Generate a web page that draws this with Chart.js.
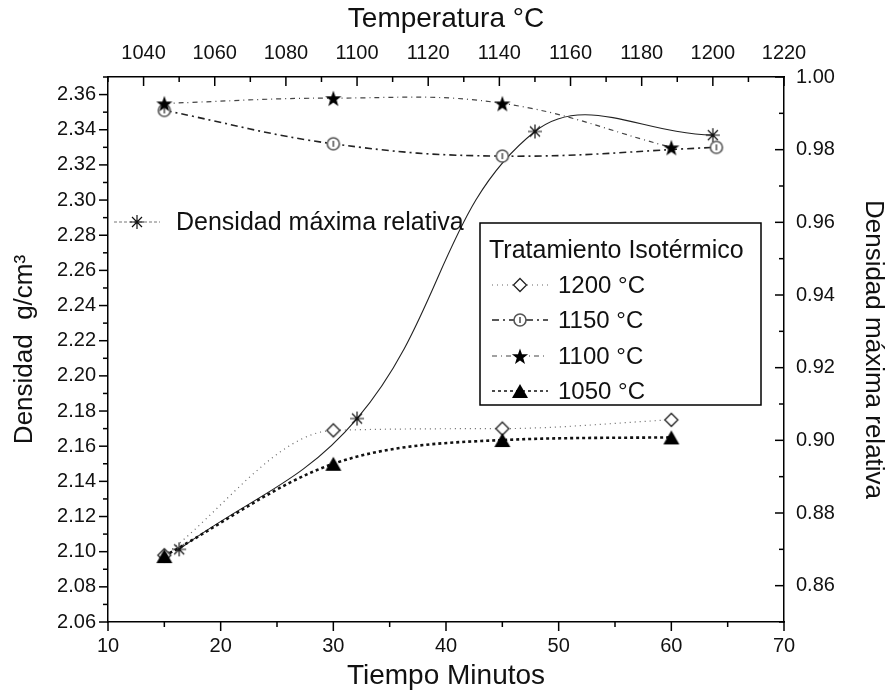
<!DOCTYPE html>
<html>
<head>
<meta charset="UTF-8" />
<title>Densidad vs tiempo</title>
<style>
  html, body { margin: 0; padding: 0; background: #fff; }
  #chartId { display: block; }
</style>
</head>
<body>
<canvas id="chartId" width="893" height="693"></canvas>
<script src="https://cdn.jsdelivr.net/npm/chart.js@4.4.1/dist/chart.umd.min.js"></script>
<script>
// tiempo (min) y densidad (g/cm3) por tratamiento isotermico
const minutes = [15, 30, 45, 60];
const minutes1150 = [15, 30, 45, 64];
const dens1200 = [2.098, 2.169, 2.170, 2.175];
const dens1150 = [2.351, 2.332, 2.325, 2.330];
const dens1100 = [2.355, 2.358, 2.355, 2.330];
const dens1050 = [2.0975, 2.150, 2.1635, 2.165];
// densidad maxima relativa contra temperatura (eje de arriba / derecha)
const temps = [1050, 1100, 1150, 1200];
const densRel = [0.870, 0.906, 0.985, 0.984];

const seriesNames = ['1200 °C', '1150 °C', '1100 °C', '1050 °C'];
const relName = 'Densidad máxima relativa';
const legendTitle = 'Tratamiento Isotérmico';

const FONT = "'Liberation Sans', Arial, sans-serif";

function pts(xs, ys) { return xs.map((x, i) => ({ x: x, y: ys[i] })); }

// markers drawn once on small canvases
function marker(size, draw) {
    const c = document.createElement('canvas');
    c.width = size; c.height = size;
    draw(c.getContext('2d'), size / 2);
    return c;
}
const mDiamond = marker(18, (g, h) => {
    g.beginPath();
    g.moveTo(h, 2.5); g.lineTo(15.5, h); g.lineTo(h, 15.5); g.lineTo(2.5, h); g.closePath();
    g.fillStyle = '#fff'; g.fill();
    g.strokeStyle = '#222'; g.lineWidth = 1.3; g.stroke();
});
const mCircle = marker(16, (g, h) => {
    g.beginPath(); g.arc(h, h, 6, 0, Math.PI * 2);
    g.fillStyle = '#fff'; g.fill();
    g.strokeStyle = '#555'; g.lineWidth = 1.6; g.stroke();
    g.beginPath(); g.moveTo(h, h - 3); g.lineTo(h, h + 3); g.stroke();
});
const mStar = marker(20, (g, h) => {
    g.beginPath();
    for (let i = 0; i < 10; i++) {
        const r = i % 2 ? 3.4 : 8.5;
        const a = -Math.PI / 2 + i * Math.PI / 5;
        g.lineTo(h + r * Math.cos(a), h + 1 + r * Math.sin(a));
    }
    g.closePath();
    g.fillStyle = '#000'; g.fill();
});
const mTriangle = marker(20, (g, h) => {
    g.beginPath();
    g.moveTo(h, 3); g.lineTo(18, 17); g.lineTo(2, 17); g.closePath();
    g.fillStyle = '#000'; g.fill();
});
const mAsterisk = marker(18, (g, h) => {
    g.strokeStyle = '#111'; g.lineWidth = 1.2;
    g.beginPath();
    g.moveTo(h, 2); g.lineTo(h, 16);
    g.moveTo(2, h); g.lineTo(16, h);
    g.moveTo(4, 4); g.lineTo(14, 14);
    g.moveTo(14, 4); g.lineTo(4, 14);
    g.stroke();
});

function evenHundredth(v) { return Math.abs(Math.round(v * 100)) % 2 === 0; }

// tick marks: long on labelled ticks, short otherwise
const tickMarks = {
    id: 'tickMarks',
    afterDraw(chart) {
        const ctx = chart.ctx;
        ctx.save();
        ctx.strokeStyle = '#000';
        ctx.lineWidth = 1.5;
        ['x', 'x2', 'y', 'y2'].forEach(id => {
            const s = chart.scales[id];
            s.ticks.forEach(t => {
                const len = t.label !== '' ? 9 : 5;
                const p = s.getPixelForValue(t.value);
                ctx.beginPath();
                if (id === 'x') { ctx.moveTo(p, s.top); ctx.lineTo(p, s.top + len); }
                if (id === 'x2') { ctx.moveTo(p, s.bottom); ctx.lineTo(p, s.bottom + len); }
                if (id === 'y') { ctx.moveTo(s.right, p); ctx.lineTo(s.right - len, p); }
                if (id === 'y2') { ctx.moveTo(s.left, p); ctx.lineTo(s.left - len, p); }
                ctx.stroke();
            });
        });
        ctx.restore();
    }
};

// legend box and the loose label for the relative density curve
const legendBox = {
    id: 'legendBox',
    afterDraw(chart) {
        const ctx = chart.ctx;
        const ds = chart.data.datasets;
        ctx.save();
        ctx.fillStyle = '#111';
        ctx.textBaseline = 'middle';

        // Densidad maxima relativa
        ctx.strokeStyle = '#777'; ctx.lineWidth = 1; ctx.setLineDash([3, 2]);
        ctx.beginPath(); ctx.moveTo(114, 222); ctx.lineTo(160, 222); ctx.stroke();
        ctx.setLineDash([]);
        ctx.drawImage(mAsterisk, 137 - 9, 222 - 9);
        ctx.font = '25px ' + FONT;
        ctx.fillText(relName, 176, 223);

        // box
        ctx.fillStyle = '#fff';
        ctx.fillRect(480, 223, 281, 182);
        ctx.strokeStyle = '#000'; ctx.lineWidth = 1.5;
        ctx.strokeRect(480, 223, 281, 182);
        ctx.fillStyle = '#111';
        ctx.font = '25px ' + FONT;
        ctx.fillText(legendTitle, 489, 251);

        ctx.font = '24px ' + FONT;
        const rows = [285, 320, 356, 391];
        for (let i = 0; i < 4; i++) {
            const d = ds[i];
            ctx.strokeStyle = d.borderColor;
            ctx.lineWidth = Math.min(d.borderWidth, 1.5);
            ctx.setLineDash(d.borderDash);
            ctx.beginPath(); ctx.moveTo(492, rows[i]); ctx.lineTo(548, rows[i]); ctx.stroke();
            ctx.setLineDash([]);
            const img = d.pointStyle;
            ctx.drawImage(img, 520 - img.width / 2, rows[i] - img.height / 2);
            ctx.fillText(d.label, 558, rows[i] + 1);
        }
        ctx.restore();
    }
};

const axisFont = { family: FONT, size: 20 };
const titleFont = { family: FONT, size: 28 };
const sideTitleFont = { family: FONT, size: 26 };

new Chart(document.getElementById('chartId').getContext('2d'), {
    type: 'line',
    data: {
        datasets: [
            {
                label: seriesNames[0], data: pts(minutes, dens1200),
                borderColor: '#666', borderWidth: 1.2, borderDash: [1, 4],
                pointStyle: mDiamond, cubicInterpolationMode: 'monotone', order: 3,
                xAxisID: 'x', yAxisID: 'y'
            },
            {
                label: seriesNames[1], data: pts(minutes1150, dens1150),
                borderColor: '#222', borderWidth: 1.6, borderDash: [7, 4, 2, 4],
                pointStyle: mCircle, tension: 0.4, order: 2,
                xAxisID: 'x', yAxisID: 'y'
            },
            {
                label: seriesNames[2], data: pts(minutes, dens1100),
                borderColor: '#444', borderWidth: 1.2, borderDash: [5, 4, 1, 4],
                pointStyle: mStar, tension: 0.4, order: 1,
                xAxisID: 'x', yAxisID: 'y'
            },
            {
                label: seriesNames[3], data: pts(minutes, dens1050),
                borderColor: '#111', borderWidth: 2.6, borderDash: [3, 3],
                pointStyle: mTriangle, cubicInterpolationMode: 'monotone', order: 0,
                xAxisID: 'x', yAxisID: 'y'
            },
            {
                label: relName, data: pts(temps, densRel),
                borderColor: '#222', borderWidth: 1.1, borderDash: [],
                pointStyle: mAsterisk, tension: 0.4, order: 4,
                xAxisID: 'x2', yAxisID: 'y2'
            }
        ]
    },
    options: {
        responsive: false,
        animation: false,
        layout: { padding: 0 },
        plugins: { legend: { display: false }, tooltip: { enabled: false } },
        scales: {
            x: {
                type: 'linear', position: 'bottom', min: 10, max: 70,
                afterFit: s => { s.height = 71; },
                grid: { display: false, drawTicks: false },
                border: { display: true, color: '#000', width: 1.5 },
                ticks: {
                    stepSize: 5, autoSkip: false, maxRotation: 0, padding: 12,
                    color: '#111', font: axisFont,
                    callback: v => v % 10 === 0 ? String(v) : ''
                },
                title: { display: true, text: 'Tiempo Minutos', color: '#111', font: titleFont, padding: { top: 0, bottom: 0 } }
            },
            x2: {
                type: 'linear', position: 'top', min: 1030, max: 1220,
                afterFit: s => { s.height = 77; },
                grid: { display: false, drawTicks: false },
                border: { display: true, color: '#000', width: 1.5 },
                ticks: {
                    stepSize: 10, autoSkip: false, maxRotation: 0, padding: 12,
                    color: '#111', font: axisFont,
                    callback: v => (v - 1040) % 20 === 0 ? String(v) : ''
                },
                title: { display: true, text: 'Temperatura °C', color: '#111', font: titleFont, padding: { top: 2, bottom: 0 } }
            },
            y: {
                type: 'linear', position: 'left', min: 2.06, max: 2.37,
                afterFit: s => { s.width = 108; },
                grid: { display: false, drawTicks: false },
                border: { display: true, color: '#000', width: 1.5 },
                ticks: {
                    stepSize: 0.01, autoSkip: false, padding: 12,
                    color: '#111', font: axisFont,
                    callback: v => evenHundredth(v) ? v.toFixed(2) : ''
                },
                title: { display: true, text: 'Densidad  g/cm³', color: '#111', font: sideTitleFont, padding: { top: 9, bottom: 0 } }
            },
            y2: {
                type: 'linear', position: 'right', min: 0.85, max: 1.0,
                afterFit: s => { s.width = 109; },
                grid: { display: false, drawTicks: false },
                border: { display: true, color: '#000', width: 1.5 },
                ticks: {
                    stepSize: 0.01, autoSkip: false, padding: 12,
                    color: '#111', font: axisFont,
                    callback: v => (v > 0.855 && evenHundredth(v)) ? v.toFixed(2) : ''
                },
                title: { display: true, text: relName, color: '#111', font: sideTitleFont, padding: { top: 4, bottom: 0 } }
            }
        }
    },
    plugins: [tickMarks, legendBox]
});
</script>
</body>
</html>
